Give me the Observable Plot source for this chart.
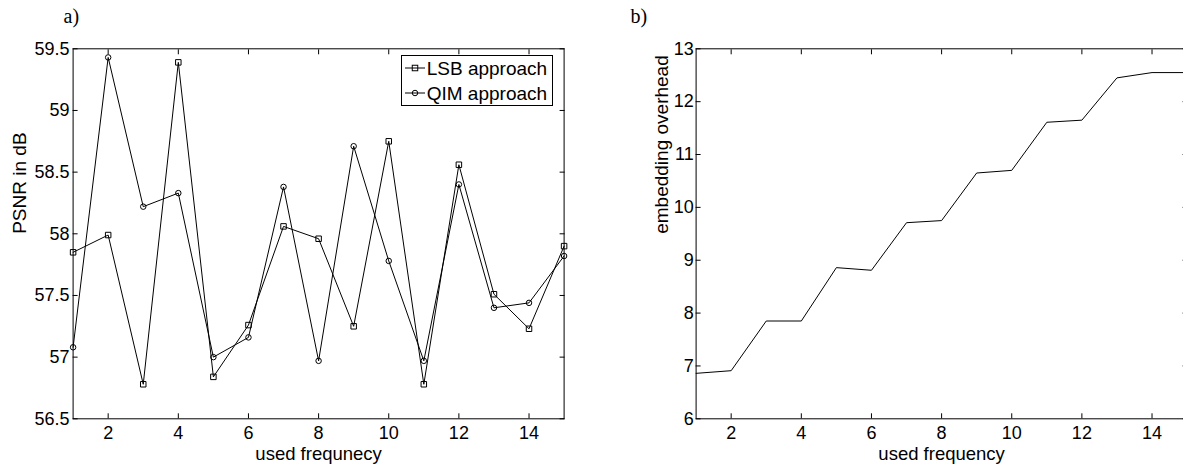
<!DOCTYPE html>
<html>
<head>
<meta charset="utf-8">
<script src="https://cdn.jsdelivr.net/npm/d3@7"></script>
<script src="https://cdn.jsdelivr.net/npm/@observablehq/plot@0.6"></script>
<style>
  html, body { margin: 0; padding: 0; background: #fff; }
  body { width: 1183px; height: 464px; overflow: hidden; position: relative; }
  #a, #b { position: absolute; top: 0; width: 600px; height: 464px; }
  #a { left: 0; }
  #b { left: 600px; }
  #a svg, #b svg { max-width: none !important; }
  #legend { position: absolute; left: 401px; top: 55px; }
</style>
</head>
<body>
<div id="a"></div>
<div id="b"></div>
<div id="legend"></div>
<script>
// ---- data ----
const freq = [1, 2, 3, 4, 5, 6, 7, 8, 9, 10, 11, 12, 13, 14, 15];
const lsb = [57.85, 57.99, 56.78, 59.39, 56.84, 57.26, 58.06, 57.96, 57.25, 58.75, 56.78, 58.56, 57.51, 57.23, 57.90];
const qim = [57.08, 59.43, 58.22, 58.33, 57.00, 57.16, 58.38, 56.97, 58.71, 57.78, 56.97, 58.40, 57.40, 57.44, 57.82];
const overhead = [6.86, 6.91, 7.85, 7.85, 8.86, 8.81, 9.71, 9.75, 10.65, 10.70, 11.61, 11.65, 12.45, 12.55, 12.55];
const xTicks = [2, 4, 6, 8, 10, 12, 14];
const yTicksA = [56.5, 57, 57.5, 58, 58.5, 59, 59.5];
const yTicksB = [6, 7, 8, 9, 10, 11, 12, 13];
const seriesNames = ["LSB approach", "QIM approach"];
const xLabelA = "used frequnecy";
const xLabelB = "used frequency";
const yLabelA = "PSNR in dB";
const yLabelB = "embedding overhead";
const panelA = "a)";
const panelB = "b)";

const rowsLSB = freq.map((f, i) => ({f, v: lsb[i]}));
const rowsQIM = freq.map((f, i) => ({f, v: qim[i]}));
const rowsOH = freq.map((f, i) => ({f, v: overhead[i]}));

const FONT = "'Liberation Sans', Arial, sans-serif";
const SERIF = "'Liberation Serif', 'Times New Roman', serif";

function frameAxes(yTicks, yPad) {
  return [
    Plot.frame({stroke: "black", strokeWidth: 1}),
    Plot.axisX(xTicks, {anchor: "bottom", tickSize: -5, tickPadding: 12.5, tickFormat: d => String(d), label: null, fontSize: 18}),
    Plot.axisX(xTicks, {anchor: "top", tickSize: -5, tickFormat: () => "", label: null}),
    Plot.axisY(yTicks, {anchor: "left", tickSize: -5, tickPadding: yPad, tickFormat: d => String(d), label: null, fontSize: 18}),
    Plot.axisY(yTicks, {anchor: "right", tickSize: -5, tickFormat: () => "", label: null})
  ];
}

function labels(xl, yl, yDx, panel, pDx) {
  return [
    Plot.text([xl], {frameAnchor: "bottom", text: d => d, lineAnchor: "bottom", dy: 41.5, fontSize: 18.5, fill: "black"}),
    Plot.text([yl], {frameAnchor: "left", text: d => d, rotate: -90, lineAnchor: "bottom", dx: yDx, fontSize: 19, fill: "black"}),
    Plot.text([panel], {frameAnchor: "top-left", text: d => d, textAnchor: "start", lineAnchor: "bottom", dx: pDx, dy: -25.8, fontSize: 20, fontFamily: SERIF, fill: "black"})
  ];
}

const common = {
  width: 600,
  height: 464,
  marginTop: 48.3,
  marginBottom: 45.7,
  style: {fontFamily: FONT, fontSize: "18px", color: "black", background: "transparent", overflow: "visible", maxWidth: "none"}
};

const chartA = Plot.plot({
  ...common,
  marginLeft: 72.6,
  marginRight: 600 - 72.6 - 491,
  x: {domain: [1, 15]},
  y: {domain: [56.5, 59.5]},
  marks: [
    ...frameAxes(yTicksA, 8.6),
    Plot.line(rowsLSB, {x: "f", y: "v", stroke: "black", strokeWidth: 1}),
    Plot.line(rowsQIM, {x: "f", y: "v", stroke: "black", strokeWidth: 1}),
    Plot.dot(rowsLSB, {x: "f", y: "v", symbol: "square", r: 3.1, stroke: "black", strokeWidth: 1, fill: "none"}),
    Plot.dot(rowsQIM, {x: "f", y: "v", symbol: "circle", r: 2.75, stroke: "black", strokeWidth: 1, fill: "none"}),
    ...labels(xLabelA, yLabelA, 25 - 72.6, panelA, -9.6)
  ]
});
document.getElementById("a").appendChild(chartA);

const chartB = Plot.plot({
  ...common,
  marginLeft: 95.6,
  marginRight: 600 - 95.6 - 491,
  x: {domain: [1, 15]},
  y: {domain: [6, 13]},
  marks: [
    ...frameAxes(yTicksB, 7.3),
    Plot.line(rowsOH, {x: "f", y: "v", stroke: "black", strokeWidth: 1}),
    ...labels(xLabelB, yLabelB, 667 - 695.6, panelB, -65.6)
  ]
});
document.getElementById("b").appendChild(chartB);

// ---- legend ----
const lw = 152, lh = 51;
const leg = d3.select("#legend").append("svg").attr("width", lw).attr("height", lh)
  .style("font-family", FONT).style("font-size", "19px");
leg.append("rect").attr("x", 0.5).attr("y", 0.5).attr("width", lw - 1).attr("height", lh - 1)
  .attr("fill", "white").attr("stroke", "black");
const rowY = [13, 38];
seriesNames.forEach((name, i) => {
  const g = leg.append("g");
  g.append("line").attr("x1", 4).attr("x2", 24).attr("y1", rowY[i]).attr("y2", rowY[i]).attr("stroke", "black");
  if (i === 0) {
    g.append("rect").attr("x", 14 - 2.75).attr("y", rowY[i] - 2.75).attr("width", 5.5).attr("height", 5.5)
      .attr("fill", "none").attr("stroke", "black");
  } else {
    g.append("circle").attr("cx", 14).attr("cy", rowY[i]).attr("r", 2.75).attr("fill", "none").attr("stroke", "black");
  }
  g.append("text").attr("x", 25.7).attr("y", rowY[i] + 7).attr("fill", "black").text(name);
});
</script>
</body>
</html>
